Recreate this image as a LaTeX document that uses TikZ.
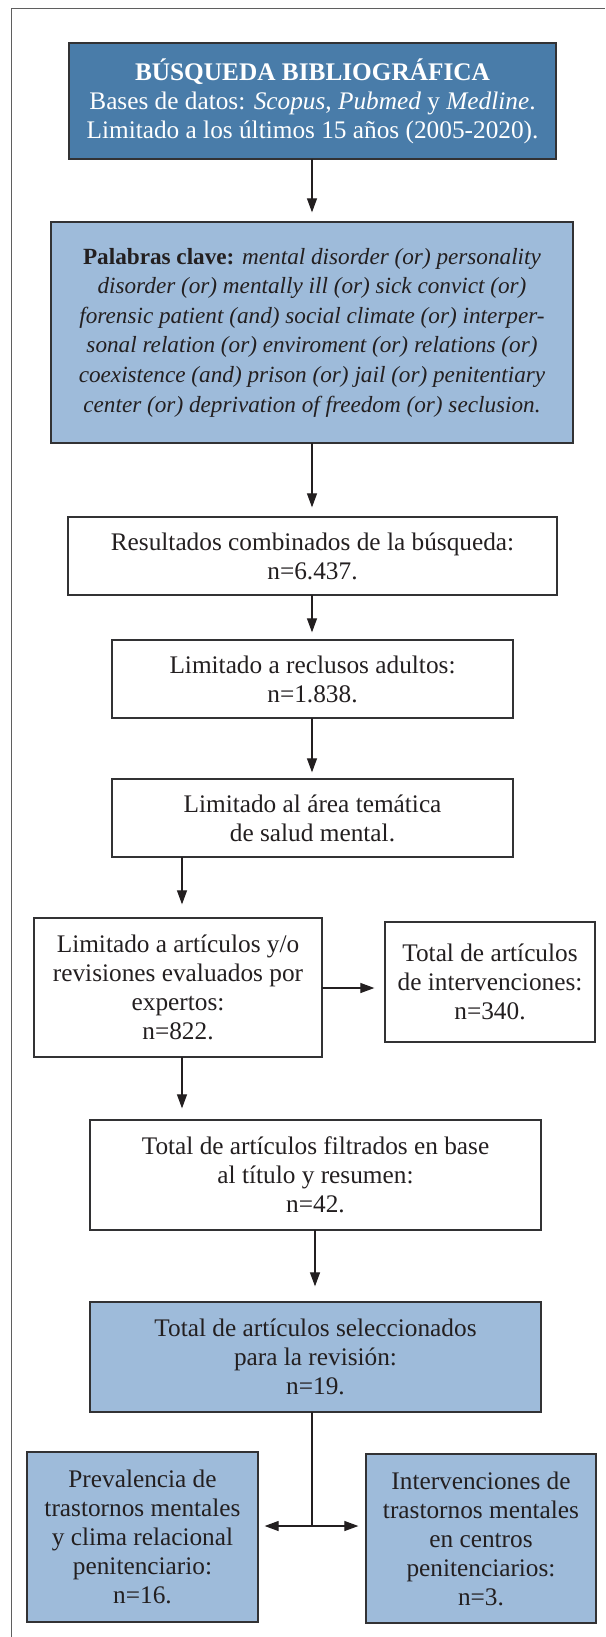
\documentclass[tikz,border=0pt]{standalone}
\usepackage{fontspec}
\setmainfont{Liberation Serif}
\usetikzlibrary{arrows.meta}
\definecolor{dblue}{RGB}{73,124,169}
\definecolor{lblue}{RGB}{158,187,218}
\definecolor{bord}{RGB}{50,50,52}
\definecolor{txt}{RGB}{35,31,32}
\definecolor{frame}{RGB}{95,95,95}
\begin{document}
\begin{tikzpicture}[x=1pt,y=-1pt,
  box/.style={draw=bord, line width=1.3pt, inner sep=0pt, align=center, text=txt,
    font=\fontsize{25.3}{29}\selectfont},
  darkbox/.style={box, fill=dblue, text=white},
  lightbox/.style={box, fill=lblue},
  plainbox/.style={box, fill=white},
  arr/.style={draw=txt, line width=1.2pt, -{Triangle[length=14pt,width=10pt]}},
  link/.style={draw=txt, line width=1.2pt}]
\useasboundingbox (0,0) rectangle (605,1637);
\fill[white] (0,0) rectangle (605,1637);
\draw[frame, line width=1pt] (11.5,1637) -- (11.5,9) -- (605,9);

\node[darkbox, minimum width=487pt, minimum height=116pt] (b1) at (312.5,101)
  {\textbf{BÚSQUEDA BIBLIOGRÁFICA}\\
   Bases de datos: \textit{Scopus}, \textit{Pubmed} y \textit{Medline}.\\
   Limitado a los últimos 15 años (2005-2020).};

\node[lightbox, minimum width=522pt, minimum height=221pt,
      font=\fontsize{23.2}{29.6}\selectfont] (b2) at (312,332.5)
  {\textbf{Palabras clave:} \textit{mental disorder (or) personality}\\
   \textit{disorder (or) mentally ill (or) sick convict (or)}\\
   \textit{forensic patient (and) social climate (or) interper-}\\
   \textit{sonal relation (or) enviroment (or) relations (or)}\\
   \textit{coexistence (and) prison (or) jail (or) penitentiary}\\
   \textit{center (or) deprivation of freedom (or) seclusion.}};

\node[plainbox, minimum width=489pt, minimum height=78pt] (b3) at (312.5,556)
  {Resultados combinados de la búsqueda:\\ n=6.437.};

\node[plainbox, minimum width=401pt, minimum height=78pt] (b4) at (312.5,679)
  {Limitado a reclusos adultos:\\ n=1.838.};

\node[plainbox, minimum width=401pt, minimum height=78pt] (b5) at (312.5,818)
  {Limitado al área temática\\ de salud mental.};

\node[plainbox, minimum width=288pt, minimum height=139pt] (b6) at (178,987.5)
  {Limitado a artículos y/o\\ revisiones evaluados por\\ expertos:\\ n=822.};

\node[plainbox, minimum width=210pt, minimum height=120pt] (b7) at (490,982)
  {Total de artículos\\ de intervenciones:\\ n=340.};

\node[plainbox, minimum width=451pt, minimum height=110pt] (b8) at (315.5,1175)
  {Total de artículos filtrados en base\\ al título y resumen:\\ n=42.};

\node[lightbox, minimum width=451pt, minimum height=110pt] (b9) at (315.5,1357)
  {Total de artículos seleccionados\\ para la revisión:\\ n=19.};

\node[lightbox, minimum width=231pt, minimum height=170pt] (b10) at (142.5,1537)
  {Prevalencia de\\ trastornos mentales\\ y clima relacional\\ penitenciario:\\ n=16.};

\node[lightbox, minimum width=230pt, minimum height=169pt] (b11) at (481,1538.5)
  {Intervenciones de\\ trastornos mentales\\ en centros\\ penitenciarios:\\ n=3.};

\coordinate (c1) at (312,159);
\draw[arr, shorten >=9pt] (c1) -- (c1 |- b2.north);
\coordinate (c2) at (312,443);
\draw[arr, shorten >=9pt] (c2) -- (c2 |- b3.north);
\coordinate (c3) at (312,595);
\draw[arr, shorten >=7pt] (c3) -- (c3 |- b4.north);
\coordinate (c4) at (312,718);
\draw[arr, shorten >=6pt] (c4) -- (c4 |- b5.north);
\coordinate (c5) at (182,857);
\draw[arr, shorten >=13pt] (c5) -- (c5 |- b6.north);
\coordinate (c6) at (322,988);
\draw[arr, shorten >=10pt] (c6) -- (c6 -| b7.west);
\coordinate (c7) at (182,1057);
\draw[arr, shorten >=11pt] (c7) -- (c7 |- b8.north);
\coordinate (c8) at (315,1230);
\draw[arr, shorten >=15pt] (c8) -- (c8 |- b9.north);
\coordinate (c9) at (312,1412);
\coordinate (split) at (312,1526);
\draw[link] (c9) -- (split);
\draw[arr, shorten >=6pt] (split) -- (split -| b10.east);
\draw[arr, shorten >=7pt] (split) -- (split -| b11.west);
\end{tikzpicture}
\end{document}
